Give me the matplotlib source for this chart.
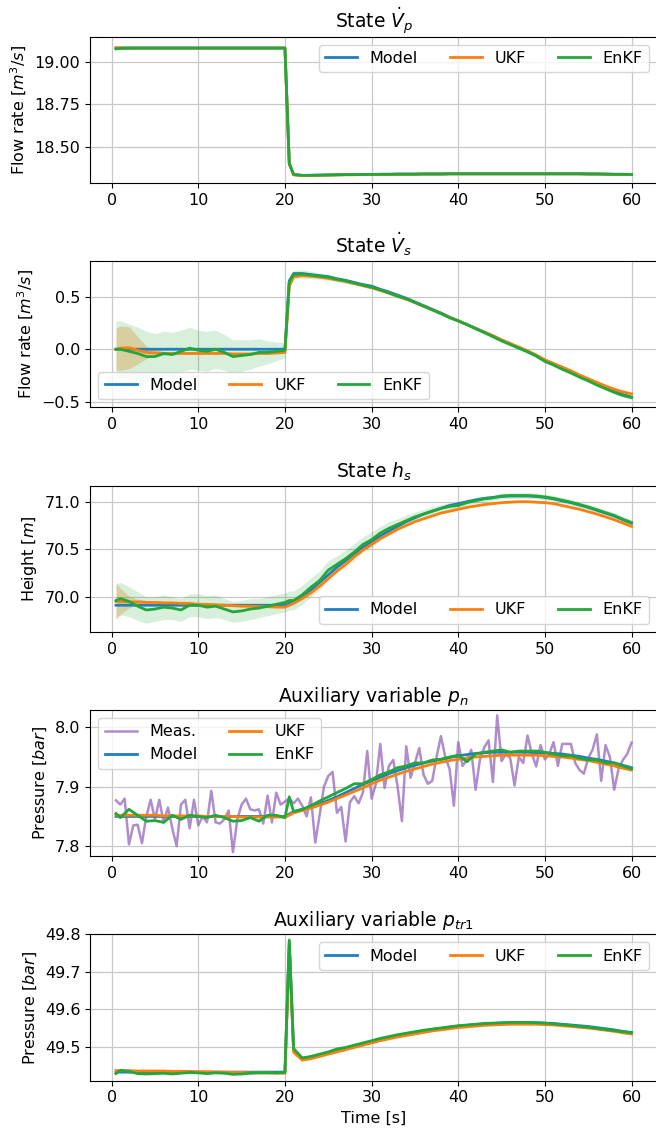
import numpy as np
import matplotlib
matplotlib.use("Agg")
import matplotlib.pyplot as plt

# ---------------- time grids ----------------
t = np.array([0.5] + list(range(1, 21)) + [20.5] + list(range(21, 61)), dtype=float)   # 62 points
t_meas = np.arange(1, 121) * 0.5   # 0.5 ... 60.0 (120 samples)

# ---------------- Panel 1 : State V_p ----------------
vp_model = [19.08]*21 + [18.40, 18.335, 18.330, 18.331, 18.332, 18.333, 18.334, 18.335, 18.335, 18.336,
            18.336, 18.337, 18.337, 18.338, 18.338, 18.338, 18.339, 18.339, 18.339, 18.340,
            18.340, 18.340, 18.340, 18.340, 18.340, 18.340, 18.340, 18.340, 18.340, 18.340,
            18.340, 18.340, 18.340, 18.340, 18.340, 18.339, 18.339, 18.338, 18.337, 18.337,
            18.336]
vp_ukf = [19.082, 19.081] + [19.08]*19 + [18.40, 18.334, 18.329, 18.330, 18.331, 18.332, 18.333, 18.334, 18.334, 18.335,
          18.335, 18.336, 18.336, 18.337, 18.337, 18.337, 18.338, 18.338, 18.338, 18.339,
          18.339, 18.339, 18.339, 18.339, 18.339, 18.339, 18.339, 18.339, 18.339, 18.339,
          18.339, 18.339, 18.339, 18.339, 18.339, 18.338, 18.338, 18.337, 18.336, 18.336,
          18.335]
vp_enkf = [19.075, 19.078] + [19.08]*19 + [18.40, 18.336, 18.331, 18.331, 18.332, 18.333, 18.334, 18.335, 18.335, 18.336,
           18.336, 18.337, 18.337, 18.338, 18.338, 18.338, 18.339, 18.339, 18.339, 18.340,
           18.340, 18.340, 18.340, 18.340, 18.340, 18.340, 18.340, 18.340, 18.340, 18.340,
           18.340, 18.340, 18.340, 18.340, 18.340, 18.339, 18.339, 18.338, 18.337, 18.337,
           18.336]
vp_ukf_band = [0.010, 0.010, 0.008, 0.004] + [0.001]*58
vp_enkf_band = [0.004]*21 + [0.004]*41

# ---------------- Panel 2 : State V_s ----------------
vs_model = [0.0]*21 + [0.65, 0.72, 0.72, 0.71, 0.70, 0.69, 0.67, 0.655, 0.635, 0.615,
            0.60, 0.57, 0.545, 0.515, 0.485, 0.45, 0.415, 0.38, 0.345, 0.305,
            0.27, 0.235, 0.20, 0.16, 0.125, 0.085, 0.05, 0.015, -0.02, -0.06,
            -0.11, -0.145, -0.185, -0.22, -0.26, -0.295, -0.33, -0.365, -0.40, -0.43,
            -0.455]
vs_ukf = [0.0, 0.01, 0.015, -0.01, -0.03, -0.035, -0.04, -0.04, -0.04, -0.04,
          -0.04, -0.04, -0.04, -0.04, -0.045, -0.045, -0.045, -0.04, -0.04, -0.035,
          -0.03,
          0.60, 0.69, 0.70, 0.695, 0.685, 0.675, 0.66, 0.645, 0.625, 0.605,
          0.585, 0.56, 0.535, 0.505, 0.475, 0.445, 0.41, 0.375, 0.34, 0.305,
          0.27, 0.235, 0.20, 0.165, 0.13, 0.09, 0.055, 0.02, -0.015, -0.055,
          -0.10, -0.135, -0.17, -0.205, -0.245, -0.28, -0.315, -0.35, -0.38, -0.405,
          -0.425]
vs_enkf = [0.0, 0.0, -0.02, -0.04, -0.07, -0.07, -0.04, -0.05, -0.02, 0.01,
           -0.01, -0.02, 0.0, -0.03, -0.07, -0.06, -0.05, -0.03, -0.03, -0.02,
           -0.01,
           0.64, 0.71, 0.715, 0.705, 0.695, 0.685, 0.665, 0.65, 0.63, 0.61,
           0.59, 0.565, 0.535, 0.505, 0.48, 0.445, 0.41, 0.375, 0.34, 0.30,
           0.27, 0.235, 0.195, 0.16, 0.12, 0.08, 0.045, 0.01, -0.025, -0.065,
           -0.115, -0.15, -0.19, -0.225, -0.265, -0.30, -0.34, -0.375, -0.41, -0.44,
           -0.46]
vs_ukf_band = [0.20, 0.21, 0.20, 0.13, 0.06, 0.03, 0.02, 0.015, 0.01, 0.01,
               0.01, 0.01, 0.01, 0.01, 0.01, 0.01, 0.01, 0.01, 0.01, 0.01,
               0.01] + [0.01]*41
vs_enkf_band = [0.27, 0.27, 0.26, 0.25, 0.24, 0.22, 0.21, 0.21, 0.20, 0.20,
                0.19, 0.19, 0.18, 0.17, 0.16, 0.15, 0.14, 0.13, 0.11, 0.09,
                0.07,
                0.05, 0.04, 0.04, 0.035, 0.03, 0.03, 0.025, 0.025, 0.02, 0.02] + [0.015]*31

# ---------------- Panel 3 : State h_s ----------------
hs_model = [69.91]*21 + [69.93, 69.95, 70.00, 70.07, 70.15, 70.23, 70.31, 70.38, 70.45, 70.52,
            70.58, 70.64, 70.69, 70.74, 70.79, 70.83, 70.87, 70.90, 70.93, 70.96,
            70.98, 71.00, 71.02, 71.035, 71.045, 71.055, 71.06, 71.06, 71.06, 71.055,
            71.045, 71.03, 71.01, 70.99, 70.965, 70.94, 70.91, 70.88, 70.85, 70.81,
            70.775]
hs_ukf = [69.95, 69.95, 69.945, 69.945, 69.94, 69.94, 69.935, 69.935, 69.93, 69.93,
          69.92, 69.92, 69.915, 69.91, 69.905, 69.90, 69.90, 69.895, 69.895, 69.89,
          69.89,
          69.91, 69.93, 69.98, 70.04, 70.11, 70.19, 70.27, 70.34, 70.42, 70.49,
          70.55, 70.61, 70.66, 70.71, 70.75, 70.79, 70.82, 70.85, 70.88, 70.90,
          70.92, 70.94, 70.955, 70.97, 70.98, 70.99, 70.995, 71.00, 71.00, 70.995,
          70.99, 70.98, 70.96, 70.94, 70.92, 70.895, 70.87, 70.84, 70.81, 70.775,
          70.74]
hs_enkf = [69.96, 69.98, 69.95, 69.90, 69.86, 69.87, 69.89, 69.88, 69.86, 69.91,
           69.91, 69.89, 69.90, 69.87, 69.84, 69.85, 69.87, 69.88, 69.90, 69.92,
           69.94,
           69.96, 69.96, 70.02, 70.10, 70.17, 70.28, 70.34, 70.40, 70.47, 70.55,
           70.60, 70.67, 70.72, 70.76, 70.80, 70.84, 70.87, 70.90, 70.93, 70.95,
           70.96, 70.99, 71.01, 71.03, 71.04, 71.06, 71.065, 71.065, 71.065, 71.06,
           71.05, 71.035, 71.015, 70.995, 70.97, 70.945, 70.915, 70.885, 70.855, 70.815,
           70.78]
hs_ukf_band = [0.19, 0.14, 0.06, 0.03, 0.02] + [0.005]*57
hs_enkf_band = [0.18, 0.17, 0.16, 0.15, 0.14, 0.13, 0.13, 0.12, 0.12, 0.12,
                0.12, 0.12, 0.12, 0.11, 0.11, 0.11, 0.11, 0.10, 0.10, 0.10,
                0.10,
                0.10, 0.10, 0.10, 0.10, 0.10, 0.10, 0.09, 0.09, 0.09, 0.08,
                0.08, 0.07, 0.07, 0.06, 0.06, 0.05, 0.05, 0.05, 0.04, 0.04] + [0.03]*21

# ---------------- Panel 4 : Auxiliary variable p_n ----------------
pn_meas = [7.877, 7.870, 7.880, 7.803, 7.835, 7.836, 7.805, 7.850, 7.878, 7.845,
           7.878, 7.840, 7.865, 7.830, 7.800, 7.870, 7.878, 7.830, 7.878, 7.835,
           7.850, 7.840, 7.893, 7.840, 7.838, 7.845, 7.860, 7.790, 7.845, 7.870,
           7.880, 7.862, 7.860, 7.862, 7.838, 7.885, 7.840, 7.890, 7.870, 7.875,
           7.880, 7.872, 7.880, 7.868, 7.850, 7.882, 7.806, 7.852, 7.900, 7.918,
           7.925, 7.856, 7.866, 7.808, 7.874, 7.884, 7.872, 7.890, 7.960, 7.880,
           7.905, 7.972, 7.898, 7.935, 7.945, 7.900, 7.842, 7.968, 7.915, 7.940,
           7.965, 7.920, 7.905, 7.910, 7.950, 7.985, 7.950, 7.930, 7.868, 7.975,
           7.935, 7.945, 7.962, 7.895, 7.945, 7.966, 7.978, 7.908, 8.020, 7.943,
           7.955, 7.948, 7.902, 7.950, 7.940, 7.986, 7.955, 7.934, 7.970, 7.946,
           7.955, 7.975, 7.935, 7.972, 7.972, 7.972, 7.940, 7.928, 7.922, 7.948,
           7.962, 7.988, 7.910, 7.970, 7.950, 7.895, 7.930, 7.945, 7.955, 7.974]
pn_model = [7.850]*21 + [7.854, 7.858, 7.862, 7.866, 7.871, 7.877, 7.883, 7.890, 7.897, 7.904,
            7.910, 7.916, 7.922, 7.927, 7.932, 7.936, 7.940, 7.943, 7.946, 7.949,
            7.952, 7.954, 7.956, 7.957, 7.958, 7.958, 7.958, 7.958, 7.958, 7.957,
            7.957, 7.956, 7.955, 7.953, 7.951, 7.948, 7.946, 7.943, 7.940, 7.936,
            7.932]
pn_ukf = [7.852, 7.852, 7.852, 7.852, 7.852, 7.852, 7.851, 7.851, 7.851, 7.851,
          7.851, 7.850, 7.850, 7.850, 7.850, 7.849, 7.849, 7.849, 7.849, 7.849,
          7.849,
          7.852, 7.856, 7.860, 7.864, 7.869, 7.874, 7.880, 7.886, 7.892, 7.898,
          7.905, 7.911, 7.916, 7.921, 7.926, 7.930, 7.934, 7.938, 7.941, 7.944,
          7.946, 7.948, 7.950, 7.951, 7.952, 7.953, 7.953, 7.953, 7.953, 7.953,
          7.952, 7.951, 7.950, 7.948, 7.946, 7.944, 7.941, 7.938, 7.935, 7.931,
          7.928]
pn_enkf = [7.855, 7.848, 7.862, 7.852, 7.842, 7.843, 7.840, 7.852, 7.845, 7.852,
           7.850, 7.848, 7.852, 7.848, 7.842, 7.843, 7.848, 7.842, 7.852, 7.852,
           7.848,
           7.883, 7.858, 7.862, 7.868, 7.876, 7.883, 7.890, 7.897, 7.905, 7.905,
           7.912, 7.920, 7.925, 7.932, 7.935, 7.940, 7.940, 7.945, 7.946, 7.950,
           7.953, 7.942, 7.955, 7.958, 7.960, 7.962, 7.958, 7.960, 7.960, 7.960,
           7.958, 7.955, 7.952, 7.952, 7.948, 7.945, 7.945, 7.940, 7.940, 7.935,
           7.930]

# ---------------- Panel 5 : Auxiliary variable p_tr1 ----------------
ptr_model = [49.432]*21 + [49.78, 49.49, 49.468, 49.472, 49.478, 49.484, 49.490, 49.496, 49.502, 49.508,
             49.514, 49.520, 49.525, 49.530, 49.534, 49.538, 49.542, 49.546, 49.549, 49.552,
             49.555, 49.557, 49.559, 49.561, 49.562, 49.563, 49.564, 49.564, 49.564, 49.564,
             49.563, 49.562, 49.560, 49.558, 49.556, 49.554, 49.551, 49.548, 49.545, 49.541,
             49.538]
ptr_ukf = [49.436, 49.436, 49.436, 49.435, 49.435, 49.435, 49.435, 49.434, 49.434, 49.434,
           49.433, 49.433, 49.432, 49.432, 49.431, 49.431, 49.430, 49.430, 49.430, 49.429,
           49.429,
           49.77, 49.485, 49.464, 49.468, 49.474, 49.480, 49.486, 49.492, 49.498, 49.504,
           49.510, 49.516, 49.521, 49.526, 49.530, 49.534, 49.538, 49.542, 49.545, 49.548,
           49.551, 49.553, 49.555, 49.557, 49.558, 49.559, 49.560, 49.560, 49.560, 49.560,
           49.559, 49.558, 49.556, 49.554, 49.552, 49.550, 49.547, 49.544, 49.541, 49.537,
           49.534]
ptr_enkf = [49.428, 49.437, 49.434, 49.428, 49.427, 49.428, 49.429, 49.427, 49.429, 49.431,
            49.430, 49.428, 49.430, 49.429, 49.426, 49.427, 49.429, 49.430, 49.430, 49.430,
            49.431,
            49.785, 49.495, 49.470, 49.474, 49.480, 49.486, 49.494, 49.498, 49.504, 49.510,
            49.516, 49.522, 49.527, 49.532, 49.536, 49.540, 49.544, 49.547, 49.550, 49.553,
            49.556, 49.558, 49.560, 49.562, 49.563, 49.564, 49.565, 49.565, 49.565, 49.564,
            49.563, 49.561, 49.559, 49.557, 49.554, 49.552, 49.549, 49.546, 49.543, 49.540,
            49.537]

# ---------------- labels ----------------
titles = [r"State $\dot{V}_p$", r"State $\dot{V}_s$", r"State $h_s$",
          r"Auxiliary variable $p_n$", r"Auxiliary variable $p_{tr1}$"]
ylabels = [r"Flow rate $[m^3/s]$", r"Flow rate $[m^3/s]$", r"Height $[m]$",
           r"Pressure $[bar]$", r"Pressure $[bar]$"]
xticks = [0, 10, 20, 30, 40, 50, 60]
yticks = [[18.50, 18.75, 19.00], [-0.5, 0.0, 0.5], [70.0, 70.5, 71.0],
          [7.8, 7.9, 8.0], [49.5, 49.6, 49.7, 49.8]]
ylims = [(18.286, 19.147), (-0.553, 0.838), (69.63, 71.17), (7.783, 8.029), (49.409, 49.80)]

C_MODEL = "#1f7fc0"
C_UKF = "#ff7f0e"
C_ENKF = "#22a83a"
C_MEAS = "#9467bd"

fig, axes = plt.subplots(5, 1, figsize=(6.56, 11.32), dpi=100)
fig.subplots_adjust(left=0.1375, right=1.002, top=0.9676, bottom=0.0453, hspace=0.5345)

panels = [
    (vp_model, vp_ukf, vp_enkf, vp_ukf_band, vp_enkf_band),
    (vs_model, vs_ukf, vs_enkf, vs_ukf_band, vs_enkf_band),
    (hs_model, hs_ukf, hs_enkf, hs_ukf_band, hs_enkf_band),
    (pn_model, pn_ukf, pn_enkf, None, None),
    (ptr_model, ptr_ukf, ptr_enkf, None, None),
]
legend_locs = ["upper right", "lower left", "lower right", "upper left", "upper right"]

for i, ax in enumerate(axes):
    m, u, e, ub, eb = panels[i]
    m = np.asarray(m); u = np.asarray(u); e = np.asarray(e)
    if ub is not None:
        ub = np.asarray(ub); eb = np.asarray(eb)
        ax.fill_between(t, u - ub, u + ub, color=C_UKF, alpha=0.3, lw=0)
        ax.fill_between(t, e - eb, e + eb, color=C_ENKF, alpha=0.18, lw=0)
    if i == 3:
        ax.plot(t_meas, pn_meas, color=C_MEAS, alpha=0.75, lw=1.8, label="Meas.")
    ax.plot(t, m, color=C_MODEL, lw=2.0, label="Model")
    ax.plot(t, u, color=C_UKF, lw=2.0, label="UKF")
    ax.plot(t, e, color=C_ENKF, lw=2.0, label="EnKF")
    ax.set_xlim(-2.475, 62.975)
    ax.set_ylim(*ylims[i])
    ax.set_xticks(xticks)
    ax.set_yticks(yticks[i])
    if i == 0:
        ax.set_yticklabels(["18.50", "18.75", "19.00"])
    ax.grid(True, color="#c8c8c8", lw=0.9)
    ax.set_axisbelow(True)
    ax.tick_params(labelsize=11.5)
    ax.set_title(titles[i], fontsize=13.5)
    ax.set_ylabel(ylabels[i], fontsize=11.5)
    if i == 3:
        ax.legend(loc=legend_locs[i], ncol=2, fontsize=11.5)
    else:
        ax.legend(loc=legend_locs[i], ncol=3, fontsize=11.5)

axes[-1].set_xlabel("Time [s]", fontsize=11.5)

fig.savefig("out.png", dpi=100)
